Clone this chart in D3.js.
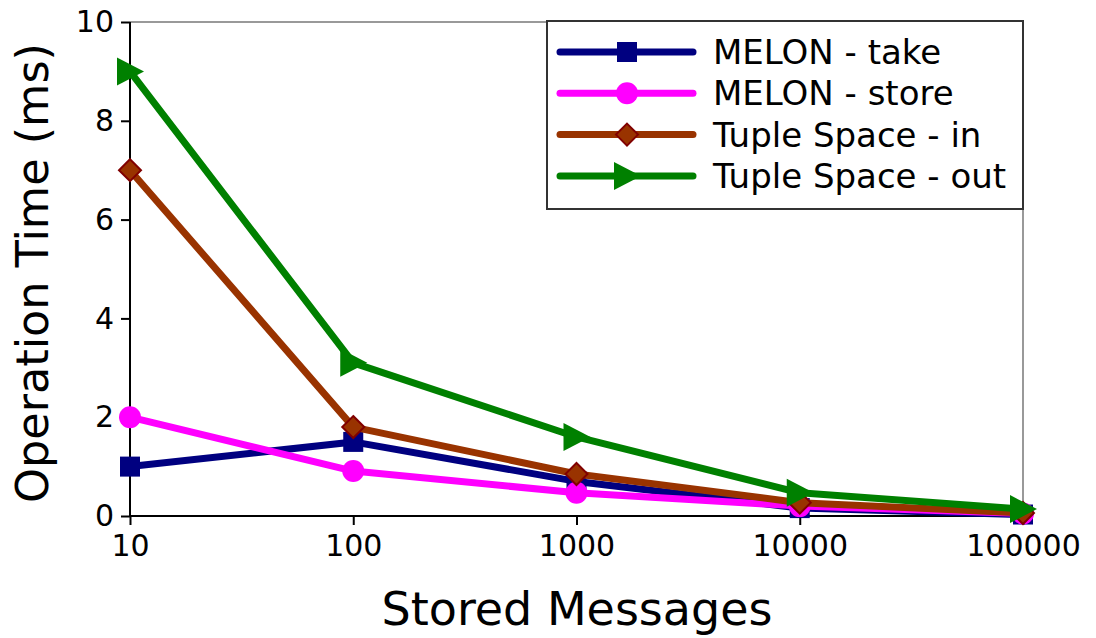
<!DOCTYPE html>
<html>
<head>
<meta charset="utf-8">
<script src="https://cdn.jsdelivr.net/npm/d3@7"></script>
<style>
  html, body { margin: 0; padding: 0; background: #fff; }
  svg { display: block; font-family: "DejaVu Sans", sans-serif; }
</style>
</head>
<body>
<svg id="chart" width="1096" height="638"></svg>
<script>
// Number of stored messages (log scale)
const messages = [10, 100, 1000, 10000, 100000];
const xTickLabels = ["10", "100", "1000", "10000", "100000"];
const yTicks = [0, 2, 4, 6, 8, 10];

// Operation time in ms per series
const melonTake  = [1.0, 1.5, 0.7, 0.16, 0.03];
const melonStore = [2.0, 0.91, 0.47, 0.2, 0.05];
const tupleIn    = [7.0, 1.8, 0.85, 0.27, 0.06];
const tupleOut   = [9.0, 3.1, 1.6, 0.47, 0.14];

const seriesNames = ["MELON - take", "MELON - store", "Tuple Space - in", "Tuple Space - out"];

const series = [
  { name: seriesNames[0], values: melonTake,  color: "#000080", marker: "square" },
  { name: seriesNames[1], values: melonStore, color: "#ff00ff", marker: "circle" },
  { name: seriesNames[2], values: tupleIn,    color: "#993300", marker: "diamond" },
  { name: seriesNames[3], values: tupleOut,   color: "#008000", marker: "triangle" }
];

const svg = d3.select("#chart");
const plotL = 130, plotR = 1023, plotT = 22, plotB = 516;

const x = d3.scaleLog().domain([10, 100000]).range([plotL, plotR]);
const y = d3.scaleLinear().domain([0, 10]).range([plotB, plotT]);

// Frame: grey top and right edges
svg.append("path")
  .attr("d", `M${plotL},${plotT}H${plotR}V${plotB}`)
  .attr("fill", "none").attr("stroke", "#999").attr("stroke-width", 2);

// Axes
const xAxis = d3.axisBottom(x).tickValues(messages)
  .tickFormat((d, i) => xTickLabels[i]).tickSize(9).tickPadding(10);
const yAxis = d3.axisLeft(y).tickValues(yTicks)
  .tickFormat(d3.format("d")).tickSize(9).tickPadding(7);

const gx = svg.append("g").attr("transform", `translate(0,${plotB})`).call(xAxis);
const gy = svg.append("g").attr("transform", `translate(${plotL},0)`).call(yAxis);
[gx, gy].forEach(g => {
  g.select(".domain").attr("stroke", "#000").attr("stroke-width", 2);
  g.selectAll(".tick line").attr("stroke", "#000").attr("stroke-width", 2);
  g.selectAll(".tick text").attr("fill", "#000")
    .style("font-size", "30px").style("font-family", "DejaVu Sans, sans-serif");
});
gx.select(".domain").attr("d", `M${plotL},0H${plotR}`);
gy.select(".domain").attr("d", `M0,${plotB}V${plotT}`);

// Axis titles
svg.append("text")
  .attr("x", 577).attr("y", 625)
  .attr("text-anchor", "middle").style("font-size", "46px")
  .text("Stored Messages");
svg.append("text")
  .attr("transform", "translate(48,273) rotate(-90)")
  .attr("text-anchor", "middle").style("font-size", "44.5px")
  .text("Operation Time (ms)");

// Marker drawing helper
function drawMarker(g, type, color, cx, cy) {
  if (type === "square") {
    g.append("rect").attr("x", cx - 10).attr("y", cy - 10)
      .attr("width", 20).attr("height", 20).attr("fill", color);
  } else if (type === "circle") {
    g.append("circle").attr("cx", cx).attr("cy", cy).attr("r", 11).attr("fill", color);
  } else if (type === "diamond") {
    g.append("path")
      .attr("d", `M${cx},${cy - 11}L${cx + 11},${cy}L${cx},${cy + 11}L${cx - 11},${cy}Z`)
      .attr("fill", color).attr("stroke", "#800000").attr("stroke-width", 2);
  } else if (type === "triangle") {
    g.append("path")
      .attr("d", `M${cx - 13},${cy - 14}L${cx + 14},${cy}L${cx - 13},${cy + 14}Z`)
      .attr("fill", color);
  }
}

const line = d3.line().x((d, i) => x(messages[i])).y(d => y(d));

const plot = svg.append("g");
series.forEach(s => {
  const g = plot.append("g");
  g.append("path").datum(s.values)
    .attr("d", line).attr("fill", "none")
    .attr("stroke", s.color).attr("stroke-width", 7)
    .attr("stroke-linejoin", "round").attr("stroke-linecap", "round");
  s.values.forEach((v, i) => drawMarker(g, s.marker, s.color, x(messages[i]), y(v)));
});

// Legend
const legend = svg.append("g");
legend.append("rect")
  .attr("x", 547).attr("y", 21).attr("width", 476).attr("height", 188)
  .attr("fill", "#fff").attr("stroke", "#333").attr("stroke-width", 2);
series.forEach((s, i) => {
  const ly = 52 + i * 41.3;
  const g = legend.append("g");
  g.append("line").attr("x1", 560).attr("x2", 693).attr("y1", ly).attr("y2", ly)
    .attr("stroke", s.color).attr("stroke-width", 7).attr("stroke-linecap", "round");
  drawMarker(g, s.marker, s.color, 627, ly);
  g.append("text").attr("x", 713).attr("y", ly + 12)
    .style("font-size", "34px").text(s.name);
});
</script>
</body>
</html>
